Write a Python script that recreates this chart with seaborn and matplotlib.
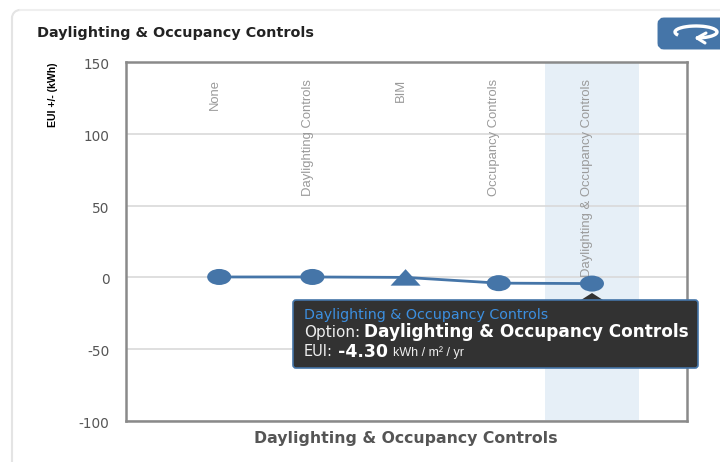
import matplotlib
matplotlib.use('Agg')
import matplotlib.pyplot as plt
import seaborn as sns
import pandas as pd
from matplotlib.markers import MarkerStyle
from matplotlib.path import Path
from matplotlib.patches import FancyBboxPatch, Polygon, Arc
from matplotlib.transforms import Affine2D, ScaledTranslation

sns.set_theme(style='white')
plt.rcParams['font.family'] = ['DejaVu Sans']

options = ['None', 'Daylighting Controls', 'BIM', 'Occupancy Controls', 'Daylighting & Occupancy Controls']
eui = [0.3, 0.3, 0.0, -4.0, -4.3]
shapes = ['circle', 'circle', 'triangle', 'circle', 'circle']
y_ticks = [-100, -50, 0, 50, 100, 150]
y_labels = ['-100', '-50', '0', '50', '100', '150']
title = 'Daylighting & Occupancy Controls'
tip_title = 'Daylighting & Occupancy Controls'
tip_option = 'Daylighting & Occupancy Controls'
tip_value = '-4.30'
tip_unit = 'kWh / m² / yr'

blue = '#4575a8'
narrow = 'Liberation Sans'

df = pd.DataFrame({'pos': range(len(options)), 'eui': eui, 'shape': shapes})

fig = plt.figure(figsize=(7.2, 4.62), dpi=100)
ax = fig.add_axes([126 / 720, 41 / 462, 561 / 720, 359 / 462])

ax.axvspan(3.5, 4.5, color='#e6eff7', lw=0, zorder=0)
ax.set_yticks(y_ticks)
ax.set_yticklabels(y_labels)
ax.yaxis.grid(True, color='#d9d9d9', lw=1.2)
ax.set_axisbelow(True)

for i, name in enumerate(options):
    ax.text(i - 0.05, 138, name, rotation=90, ha='center', va='top', color='#9a9a9a',
            family=narrow, fontsize=9.4, zorder=2)

sns.lineplot(data=df, x='pos', y='eui', color=blue, lw=2, ax=ax, zorder=3)

# stretched markers, the original picture is wider than it is tall
oval = MarkerStyle(Path.unit_circle().transformed(Affine2D().scale(1.5, 1.0)))
tri = MarkerStyle(Path([(-1.0, -0.55), (1.0, -0.55), (0, 0.55), (-1.0, -0.55)], closed=True))
sns.scatterplot(data=df, x='pos', y='eui', style='shape', markers={'circle': oval, 'triangle': tri},
                size='shape', sizes={'circle': 300, 'triangle': 467},
                color=blue, linewidth=0, legend=False, ax=ax, zorder=4)

ax.set_xlim(-1, 5.02)
ax.set_ylim(-100, 150)
ax.set_xticks([])
ax.set_xlabel('')
ax.set_ylabel('')
ax.tick_params(axis='y', length=0, pad=12, labelsize=9.8, labelcolor='#555555')
shift = ScaledTranslation(0, -1.5 / 100, fig.dpi_scale_trans)
for lab in ax.get_yticklabels():
    lab.set_transform(lab.get_transform() + shift)
for side, sp in ax.spines.items():
    sp.set_visible(True)
    sp.set_color('#8a8a8a')
    sp.set_linewidth(1.8)

# overlay in pixel coordinates for the card, button and tooltip
ov = fig.add_axes([0, 0, 1, 1], zorder=10)
ov.set_xlim(0, 720)
ov.set_ylim(462, 0)
ov.axis('off')
ov.patch.set_alpha(0)

ov.plot([12, 12], [462, 18], color='#e4e4e4', lw=1.5)
ov.plot([20, 720], [10, 10], color='#efefef', lw=1.5)
ov.add_patch(Arc((20, 18), 16, 16, theta1=180, theta2=270, color='#e4e4e4', lw=1.5))

ov.text(37, 33.5, title, fontsize=10.4, fontweight='bold', color='#222222', va='center')
ov.text(406, 438, title, fontsize=11.3, fontweight='bold', color='#555555', va='center', ha='center')
ov.text(53, 95, 'EUI +/- (kWh)', rotation=90, family=narrow, fontweight='bold', fontsize=7.6,
        color='black', va='center', ha='center')

ov.add_patch(FancyBboxPatch((661, 21), 70, 25, boxstyle='round,pad=0,rounding_size=3',
                            fc=blue, ec=blue, lw=5))
ov.add_patch(Arc((696, 32), 42, 12, theta1=170, theta2=450, color='white', lw=2.4))
ov.plot([706, 697, 705], [33, 38, 43], color='white', lw=2.2)

ov.add_patch(Polygon([(581, 300), (592, 293), (603, 300)], closed=True, fc='#323232', ec='none'))
ov.add_patch(FancyBboxPatch((293, 300), 405, 68, boxstyle='round,pad=0,rounding_size=3',
                            fc='#323232', ec=blue, lw=1.2))
ov.text(304, 315, tip_title, fontsize=10.3, color='#3c8fe0', va='center')
ov.text(304, 332, 'Option:', fontsize=11, color='#eeeeee', va='center')
ov.text(364, 332, tip_option, fontsize=12.15, fontweight='bold', color='white', va='center')
ov.text(304, 352, 'EUI:', fontsize=10.5, color='#eeeeee', va='center')
ov.text(338, 352, tip_value, fontsize=12.5, fontweight='bold', color='white', va='center')
ov.text(393, 353, tip_unit, fontsize=9, color='#eeeeee', va='center', family=narrow)

fig.savefig('out.png', dpi=100)
